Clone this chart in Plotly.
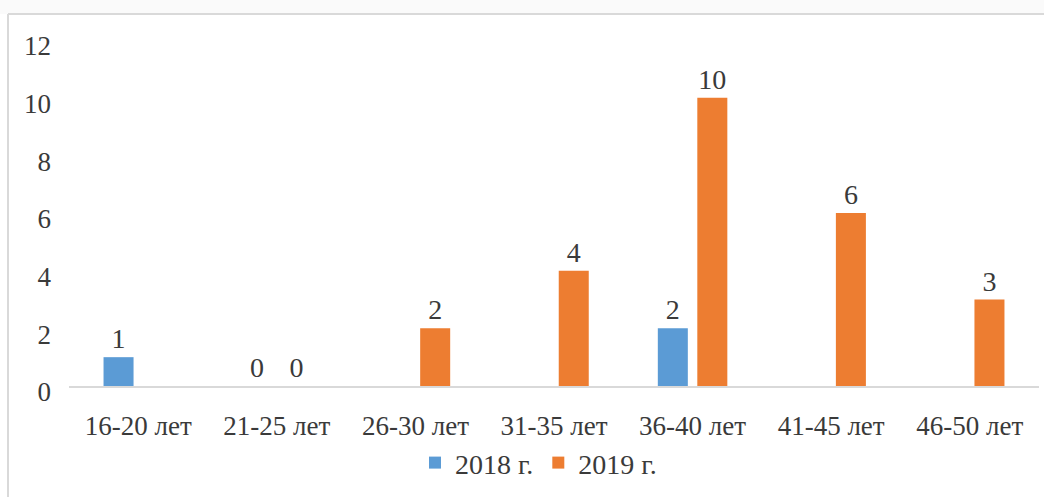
import plotly.graph_objects as go

# Age groups and counts per year (None = no bar / no label)
categories = ["16-20 лет", "21-25 лет", "26-30 лет", "31-35 лет", "36-40 лет", "41-45 лет", "46-50 лет"]
values_2018 = [1, 0, None, None, 2, None, None]
values_2019 = [None, 0, 2, 4, 10, 6, 3]
y_ticks = [0, 2, 4, 6, 8, 10, 12]

FONT = "Liberation Serif"
TEXT_COLOR = "#3a3a3a"


def labels(vals):
    return ["" if v is None else str(v) for v in vals]


fig = go.Figure()
fig.add_trace(go.Bar(
    name="2018 г.", x=categories, y=values_2018,
    marker=dict(color="#5B9BD5", line=dict(width=0)),
    text=labels(values_2018), textposition="outside", cliponaxis=False,
    textfont=dict(family=FONT, size=28, color=TEXT_COLOR),
))
fig.add_trace(go.Bar(
    name="2019 г.", x=categories, y=values_2019,
    marker=dict(color="#ED7D31", line=dict(width=0)),
    text=labels(values_2019), textposition="outside", cliponaxis=False,
    textfont=dict(family=FONT, size=28, color=TEXT_COLOR),
))

fig.update_layout(
    width=1044, height=497,
    margin=dict(l=69, r=5, t=40, b=111),
    paper_bgcolor="white", plot_bgcolor="white",
    barmode="group", bargap=0.43, bargroupgap=0.24,
    font=dict(family=FONT, size=27, color=TEXT_COLOR),
    showlegend=True,
    legend=dict(
        orientation="h", x=0.484, xanchor="center", y=-0.15, yanchor="top",
        font=dict(family=FONT, size=28, color=TEXT_COLOR),
        itemwidth=30, tracegroupgap=0,
    ),
    xaxis=dict(
        showline=True, linecolor="#d9d9d9", linewidth=2,
        ticks="", tickfont=dict(family=FONT, size=27, color=TEXT_COLOR),
        ticklabelstandoff=15,
    ),
    yaxis=dict(
        range=[0, 12], tickvals=y_ticks, showgrid=False, zeroline=False,
        showline=False, ticks="", ticklabelstandoff=17, ticklabelshift=6,
        tickfont=dict(family=FONT, size=27, color=TEXT_COLOR),
    ),
    shapes=[
        # light strip above the chart frame
        dict(type="rect", xref="paper", yref="paper", x0=-0.1, x1=1.1,
             y0=1.0 + (40 - 14) / 346, y1=1.0 + 40 / 346,
             fillcolor="#fafafa", line=dict(width=0), layer="below"),
        # chart frame: top and left edges
        dict(type="line", xref="paper", yref="paper",
             x0=-(69 - 8) / 970, x1=1.1, y0=1.0 + (40 - 14) / 346, y1=1.0 + (40 - 14) / 346,
             line=dict(color="#d9d9d9", width=2)),
        dict(type="line", xref="paper", yref="paper",
             x0=-(69 - 8) / 970, x1=-(69 - 8) / 970, y0=1.0 + (40 - 14) / 346, y1=-0.4,
             line=dict(color="#d9d9d9", width=2)),
    ],
)

fig.write_html("out.html")
